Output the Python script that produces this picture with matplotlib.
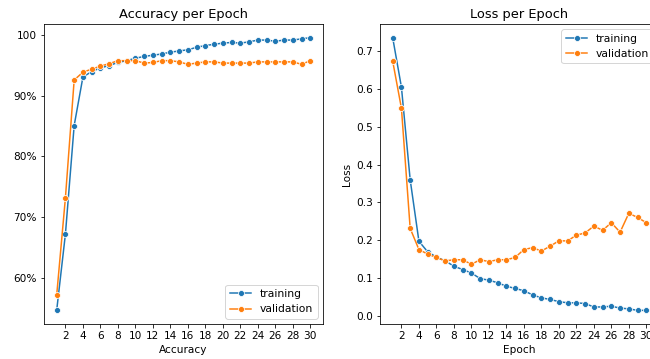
import numpy as np
import matplotlib
matplotlib.use("Agg")
import matplotlib.pyplot as plt

epochs = np.arange(1, 31)

train_acc = [54.6, 67.2, 85.1, 93.1, 94.0, 94.6, 95.0, 95.5, 95.8, 96.2,
             96.5, 96.7, 96.9, 97.2, 97.4, 97.6, 98.0, 98.3, 98.5, 98.7,
             98.8, 98.7, 98.9, 99.2, 99.2, 99.0, 99.2, 99.2, 99.4, 99.6]
val_acc = [57.1, 73.2, 92.6, 93.9, 94.4, 94.9, 95.3, 95.8, 95.8, 95.8,
           95.4, 95.5, 95.8, 95.8, 95.6, 95.2, 95.4, 95.6, 95.6, 95.4,
           95.4, 95.4, 95.4, 95.6, 95.6, 95.6, 95.6, 95.6, 95.2, 95.8]

train_loss = [0.736, 0.605, 0.360, 0.197, 0.169, 0.155, 0.145, 0.131, 0.122, 0.113,
              0.098, 0.094, 0.087, 0.078, 0.072, 0.066, 0.055, 0.047, 0.043, 0.037,
              0.034, 0.034, 0.032, 0.023, 0.023, 0.025, 0.020, 0.018, 0.014, 0.014]
val_loss = [0.674, 0.549, 0.231, 0.175, 0.163, 0.154, 0.145, 0.148, 0.148, 0.136,
            0.148, 0.143, 0.148, 0.148, 0.154, 0.175, 0.180, 0.171, 0.184, 0.198,
            0.198, 0.213, 0.219, 0.237, 0.226, 0.246, 0.221, 0.271, 0.260, 0.246]

acc_ticks = [60, 70, 80, 90, 100]
acc_ticklabels = ['60%', '70%', '80%', '90%', '100']
x_ticks = list(range(2, 31, 2))

plt.rcParams['xtick.labelsize'] = 10.5
plt.rcParams['ytick.labelsize'] = 10.5
plt.rcParams['axes.titlesize'] = 13
plt.rcParams['axes.labelsize'] = 10.5
plt.rcParams['legend.fontsize'] = 10.8

W, H = 650, 359
fig = plt.figure(figsize=(W / 72, H / 72), dpi=72)
# right panel runs past the figure edge, like the cropped original
ax1 = fig.add_axes([44 / W, (H - 324) / H, 279 / W, 300 / H])
ax2 = fig.add_axes([380 / W, (H - 324) / H, 279 / W, 300 / H])

style = dict(marker='o', ms=6, mec='white', mew=0.75, lw=1.5)

ax1.plot(epochs, train_acc, color='#1f77b4', label='training', **style)
ax1.plot(epochs, val_acc, color='#ff7f0e', label='validation', **style)
ax1.set_title('Accuracy per Epoch')
ax1.set_xlabel('Accuracy')
ax1.set_xticks(x_ticks)
ax1.set_yticks(acc_ticks)
ax1.set_yticklabels(acc_ticklabels)
ax1.legend(loc='lower right')

ax2.plot(epochs, train_loss, color='#1f77b4', label='training', **style)
ax2.plot(epochs, val_loss, color='#ff7f0e', label='validation', **style)
ax2.set_title('Loss per Epoch')
ax2.set_xlabel('Epoch')
ax2.set_ylabel('Loss')
ax2.set_xticks(x_ticks)
ax2.legend(loc='upper right')

fig.savefig('out.png', dpi=72)
